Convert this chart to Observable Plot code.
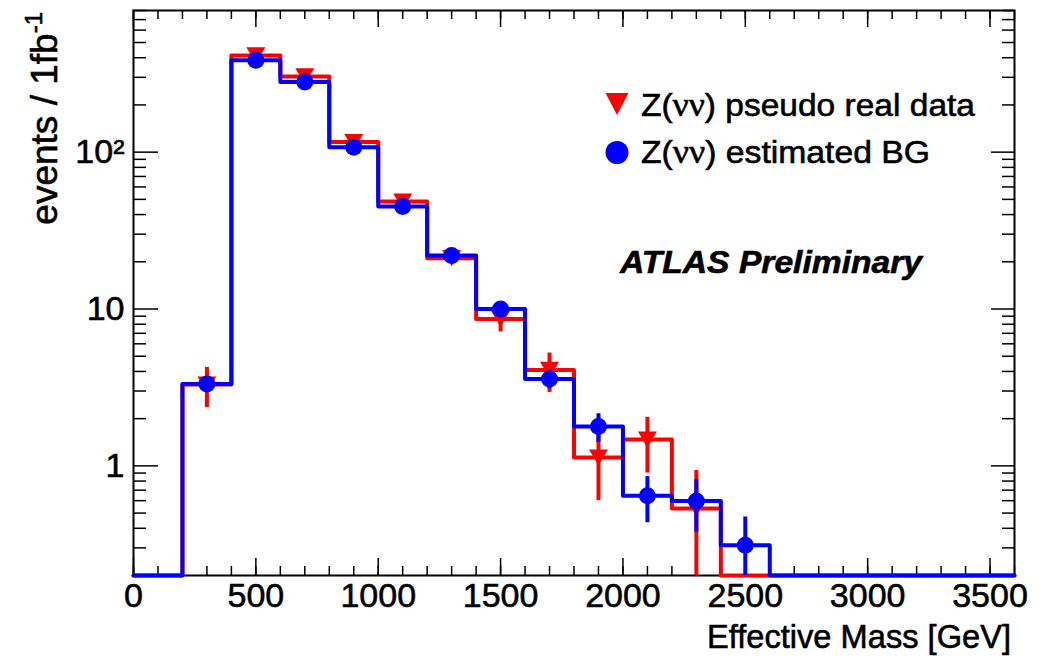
<!DOCTYPE html>
<html><head><meta charset="utf-8">
<script src="https://cdn.jsdelivr.net/npm/d3@7"></script>
<script src="https://cdn.jsdelivr.net/npm/@observablehq/plot@0.6"></script>
<style>
html,body{margin:0;padding:0;background:#fff;}
#chart svg{display:block;}
#chart svg text{stroke:black;stroke-width:0.6px;paint-order:stroke;}
</style></head><body><div id="chart"></div>
<script>
// ---- data ----
const binEdges = [0,200,400,600,800,1000,1200,1400,1600,1800,2000,2200,2400,2600,2800,3000,3200,3400,3600];
const dataValues = [0, 3.3, 414, 304, 116, 48.4, 21.1, 8.65, 4.09, 1.13, 1.47, 0.535, 0, 0, 0, 0, 0, 0];
const dataErrors = [0, 0.95, 6, 5, 3.2, 2.1, 1.4, 1.5, 1.15, 0.53, 0.57, 0.4, 0, 0, 0, 0, 0, 0];
const bgValues   = [0, 3.33, 385, 280, 107.6, 45, 21.9, 10.0, 3.58, 1.78, 0.644, 0.598, 0.312, 0, 0, 0, 0, 0];
const bgErrors   = [0, 0.3, 3, 2.5, 1.5, 1, 0.7, 0.5, 0.48, 0.37, 0.21, 0.22, 0.16, 0, 0, 0, 0, 0];
const xMajorTicks = [0,500,1000,1500,2000,2500,3000,3500];
const yMajorTicks = [1,10,100];
const yTickLabels = ["1","10","10²"];
const seriesNames = ["Z(νν) pseudo real data","Z(νν) estimated BG"];

// ---- helpers ----
const W = 1043, H = 661, mL = 133, mR = 29, mT = 10, mB = 86;
const innerW = W - mL - mR, innerH = H - mT - mB;
const yDomain = [0.2, 800];
const yFloor = yDomain[0];
const RED = "#ff0000", BLUE = "#0000ff";

const xMinorTicks = d3.range(0, 3601, 100);
const yMinorTicks = [0.3,0.4,0.5,0.6,0.7,0.8,0.9,2,3,4,5,6,7,8,9,20,30,40,50,60,70,80,90,200,300,400,500,600,700,800];

function steps(values) {
  const pts = values.map((v, i) => ({x: binEdges[i], v}));
  pts.push({x: binEdges[binEdges.length - 1], v: values[values.length - 1]});
  return pts;
}
function points(values, errors) {
  return values.map((v, i) => ({x: (binEdges[i] + binEdges[i + 1]) / 2, v, e: errors[i]})).filter(d => d.v > 0);
}
const triDown = {
  draw(ctx, size) {
    const r = Math.sqrt(size / Math.PI);
    ctx.moveTo(-r, -r * 0.85);
    ctx.lineTo(r, -r * 0.85);
    ctx.lineTo(0, r * 0.85);
    ctx.closePath();
  }
};
const redSteps = steps(dataValues), blueSteps = steps(bgValues);
const redPts = points(dataValues, dataErrors), bluePts = points(bgValues, bgErrors);
const yv = d => d.v > 0 ? d.v : yFloor;

const tk = {stroke: "black", strokeWidth: 1.5};
const chart = Plot.plot({
  width: W, height: H,
  marginLeft: mL, marginRight: mR, marginTop: mT, marginBottom: mB,
  style: {fontFamily: "'Liberation Sans', Arial, sans-serif", background: "white", color: "black"},
  x: {domain: [0, 3600]},
  y: {type: "log", domain: yDomain},
  marks: [
    Plot.frame({stroke: "black", strokeWidth: 2}),
    Plot.ruleX(xMinorTicks, {...tk, insetTop: innerH - 9}),
    Plot.ruleX(xMinorTicks, {...tk, insetBottom: innerH - 9}),
    Plot.ruleX(xMajorTicks, {...tk, insetTop: innerH - 17}),
    Plot.ruleX(xMajorTicks, {...tk, insetBottom: innerH - 17}),
    Plot.ruleY(yMinorTicks, {...tk, insetRight: innerW - 13}),
    Plot.ruleY(yMinorTicks, {...tk, insetLeft: innerW - 12}),
    Plot.ruleY(yMajorTicks, {...tk, insetRight: innerW - 25}),
    Plot.ruleY(yMajorTicks, {...tk, insetLeft: innerW - 23}),
    Plot.axisX({ticks: xMajorTicks, tickSize: 0, tickPadding: 7, fontSize: 34, tickFormat: d => String(d), label: null}),
    Plot.axisY({ticks: yMajorTicks, tickSize: 0, tickPadding: 9, fontSize: 34, tickFormat: d => yTickLabels[yMajorTicks.indexOf(d)], label: null}),
    // pseudo real data
    Plot.line(redSteps, {x: "x", y: yv, curve: "step-after", stroke: RED, strokeWidth: 4}),
    Plot.ruleX(redPts, {x: "x", y1: d => d.v - d.e, y2: d => d.v + d.e, stroke: RED, strokeWidth: 4, clip: true}),
    Plot.dot(redPts, {x: "x", y: "v", symbol: triDown, r: 9.5, fill: RED, stroke: "none"}),
    // estimated BG
    Plot.line(blueSteps, {x: "x", y: yv, curve: "step-after", stroke: BLUE, strokeWidth: 4}),
    Plot.ruleX(bluePts, {x: "x", y1: d => d.v - d.e, y2: d => d.v + d.e, stroke: BLUE, strokeWidth: 4, clip: true}),
    Plot.dot(bluePts, {x: "x", y: "v", r: 8.5, fill: BLUE, stroke: "none"})
  ]
});
document.getElementById("chart").appendChild(chart);

// ---- legend, titles and label (layout text) ----
const svg = d3.select(chart);
const F = "'Liberation Sans', Arial, sans-serif";
const serif = "'Liberation Serif', 'DejaVu Serif', serif";

function nuText(g, x, y, name, len) {
  const m = name.match(/^(Z\()(νν)(\).*)$/);
  const t = g.append("text").attr("x", x).attr("y", y).attr("text-anchor", "start")
    .attr("font-family", F).attr("font-size", 32).attr("fill", "black");
  t.append("tspan").text(m[1]);
  t.append("tspan").attr("font-family", serif).attr("font-size", 34).text(m[2]);
  t.append("tspan").text(m[3]);
  if (len) t.attr("textLength", len).attr("lengthAdjust", "spacingAndGlyphs");
  return t;
}
const lg = svg.append("g");
lg.append("path").attr("d", "M605.5,93L628.5,93L617,115Z").attr("fill", RED);
lg.append("circle").attr("cx", 617).attr("cy", 152.5).attr("r", 11.5).attr("fill", BLUE);
nuText(lg, 641, 116, seriesNames[0], 334);
nuText(lg, 641, 163, seriesNames[1], 289);

svg.append("text").attr("x", 620).attr("y", 273).attr("text-anchor", "start")
  .attr("font-family", F).attr("font-size", 31).attr("font-weight", "bold").attr("font-style", "italic")
  .attr("textLength", 302).attr("lengthAdjust", "spacingAndGlyphs")
  .text("ATLAS Preliminary");

svg.append("text").attr("x", 1011).attr("y", 648).attr("text-anchor", "end")
  .attr("font-family", F).attr("font-size", 33)
  .attr("textLength", 304).attr("lengthAdjust", "spacingAndGlyphs")
  .text("Effective Mass [GeV]");

const yt = svg.append("text").attr("transform", "translate(57,12) rotate(-90)").attr("text-anchor", "end")
  .attr("font-family", F).attr("font-size", 37).attr("fill", "black");
yt.append("tspan").text("events / 1fb");
yt.append("tspan").attr("font-size", 24).attr("dy", -15).text("-1");
</script>
</body></html>
